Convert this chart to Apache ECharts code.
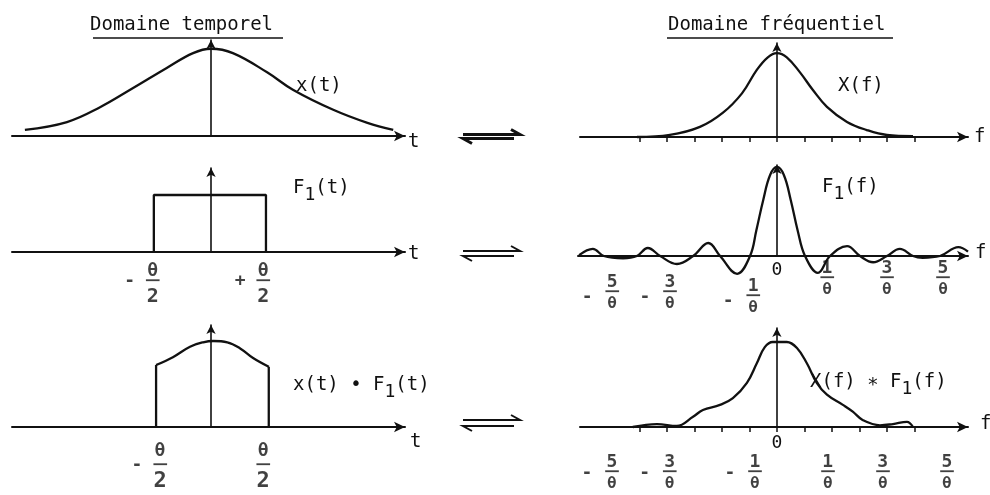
<!DOCTYPE html>
<html>
<head>
<meta charset="utf-8">
<title>Domaine temporel / Domaine fréquentiel</title>
<script src="https://cdn.jsdelivr.net/npm/echarts@6/dist/echarts.min.js"></script>
<style>
html, body { margin: 0; padding: 0; background: #fff; }
#chart { width: 990px; height: 495px; }
</style>
</head>
<body>
<div id="chart"></div>
<script>
// x(t)
var xT   = [-3.32, -2.57, -1.98, -1.39, -0.79, -0.32, 0, 0.39, 1.0, 1.46, 2.18, 2.79, 3.25];
var xVal = [0.07, 0.16, 0.33, 0.55, 0.78, 0.95, 1.0, 0.95, 0.73, 0.53, 0.30, 0.15, 0.07];

// X(f)
var XfF   = [-5.09, -3.89, -2.8, -1.96, -1.27, -0.73, -0.33, 0, 0.36, 0.84, 1.31, 1.82, 2.55, 3.27, 4.0, 4.95];
var XfVal = [0, 0.024, 0.12, 0.29, 0.52, 0.80, 0.95, 1.0, 0.95, 0.77, 0.56, 0.36, 0.18, 0.083, 0.024, 0.01];

// F1(t) : porte
var rectT   = [-1.02, -1.02, 0.98, 0.98];
var rectVal = [0, 1, 1, 0];

// F1(f)
var sincF   = [-7.2, -6.7, -6.3, -5.6, -5.1, -4.7, -4.25, -3.64, -3.05, -2.5, -2.07, -1.45, -0.98, -0.75, -0.5, -0.25, 0,
               0.25, 0.5, 0.75, 1.02, 1.49, 1.93, 2.55, 3.02, 3.5, 4.0, 4.47, 4.95, 5.3, 5.93, 6.6, 6.95];
var sincVal = [0.01, 0.08, 0, -0.025, 0, 0.09, 0, -0.09, 0, 0.146, 0, -0.20, 0, 0.29, 0.63, 0.91, 1.0,
               0.91, 0.63, 0.29, 0, -0.19, 0, 0.11, 0, -0.07, 0, 0.08, 0, -0.02, 0, 0.10, 0.05];

// x(t) . F1(t)
var prodT   = [-0.98, -0.68, -0.375, -0.14, 0.04, 0.29, 0.52, 0.75, 1.03];
var prodVal = [0.71, 0.80, 0.92, 0.97, 0.985, 0.97, 0.90, 0.79, 0.69];

// X(f) * F1(f)
var convF   = [-5.24, -4.36, -3.64, -3.05, -2.69, -2.07, -1.6, -1.09, -0.73, -0.44, -0.15, 0.1, 0.36, 0.73, 1.09, 1.45,
               1.82, 2.4, 2.76, 3.13, 3.75, 4.22, 4.73, 4.95];
var convVal = [0, 0.035, 0.012, 0.12, 0.2, 0.26, 0.34, 0.52, 0.75, 0.94, 1.0, 1.0, 1.0, 0.93, 0.75, 0.52,
               0.38, 0.26, 0.18, 0.08, 0.02, 0.035, 0.06, 0];

// graduations et etiquettes
var fTicks = [-5, -4, -3, -2, -1, 0, 1, 2, 3, 4, 5];
var halfX3 = [-1.04, 0.93];
var halfX5 = [-0.91, 0.93];
var halfNum = ['θ', 'θ'];
var halfDen = ['2', '2'];
var halfSign3 = ['-', '+'];
var halfSign5 = ['-', ''];
var fracX4 = [-6.0, -3.9, -0.87, 1.82, 4.0, 6.04];
var fracX6 = [-6.0, -3.9, -0.8, 1.85, 3.85, 6.18];
var fracNum = ['5', '3', '1', '1', '3', '5'];
var fracDen = ['θ', 'θ', 'θ', 'θ', 'θ', 'θ'];
var fracSign = ['-', '-', '-', '', '', ''];

var INK = '#111';
var MONO = "'DejaVu Sans Mono', monospace";

function zip(a, b) {
    var out = [];
    for (var i = 0; i < a.length; i++) out.push([a[i], b[i]]);
    return out;
}

var grids = [
    { left: 12,  top: 40,  width: 393, height: 96 },
    { left: 580, top: 43,  width: 388, height: 94 },
    { left: 12,  top: 168, width: 393, height: 84 },
    { left: 578, top: 165, width: 390, height: 91 },
    { left: 12,  top: 325, width: 393, height: 102 },
    { left: 580, top: 328, width: 388, height: 99 }
];
grids.forEach(function (g) { g.outerBoundsMode = 'none'; g.containLabel = false; });

function xAxisOf(gi, min, max, extra) {
    var ax = {
        type: 'value', gridIndex: gi, min: min, max: max,
        axisLine: { show: true, symbol: ['none', 'arrow'], symbolSize: [8, 11], lineStyle: { color: INK, width: 2 } },
        axisTick: { show: false },
        axisLabel: { show: false },
        splitLine: { show: false }
    };
    if (extra) for (var k in extra) ax[k] = extra[k];
    return ax;
}

function yAxisOf(gi, max) {
    return {
        type: 'value', gridIndex: gi, min: 0, max: max,
        axisLine: { show: true, symbol: ['none', 'arrow'], symbolSize: [7, 9], lineStyle: { color: INK, width: 1.6 } },
        axisTick: { show: false },
        axisLabel: { show: false },
        splitLine: { show: false }
    };
}

var tickStyle = { show: true, customValues: fTicks, length: 5, lineStyle: { color: INK, width: 1.5 } };
function zeroLabel(margin) {
    return { show: true, customValues: [0], margin: margin, fontFamily: MONO, fontSize: 18, color: INK,
             formatter: function () { return '0'; } };
}

var xAxes = [
    xAxisOf(0, -3.55, 3.46),
    xAxisOf(1, -7.16, 6.95, { axisTick: tickStyle }),
    xAxisOf(2, -3.55, 3.46),
    xAxisOf(3, -7.24, 6.95, { axisLabel: zeroLabel(5) }),
    xAxisOf(4, -3.55, 3.46),
    xAxisOf(5, -7.16, 6.95, { axisTick: tickStyle, axisLabel: zeroLabel(7) })
];
var yMax = [1.1, 1.12, 1.474, 1.022, 1.168, 1.165];
var yAxes = yMax.map(function (m, i) { return yAxisOf(i, m); });

function curve(gi, data, smooth) {
    return {
        type: 'line', xAxisIndex: gi, yAxisIndex: gi, data: data, smooth: smooth,
        symbol: 'none', clip: false, silent: true,
        lineStyle: { color: INK, width: 2.3 }
    };
}

function richFrac(nLh, dLh, dSize) {
    return {
        n: { fontFamily: MONO, fontSize: 18, lineHeight: nLh, color: INK },
        b: { fontFamily: MONO, fontSize: 22, lineHeight: 6, color: INK },
        d: { fontFamily: MONO, fontSize: dSize, lineHeight: dLh, color: INK }
    };
}

function textMarks(gi, xs, offsets, formatter, rich, fontSize) {
    var data = [];
    for (var i = 0; i < xs.length; i++) {
        data.push({ value: [xs[i], 0], label: { offset: offsets[i] } });
    }
    return {
        type: 'scatter', xAxisIndex: gi, yAxisIndex: gi, symbolSize: 1, clip: false, silent: true,
        itemStyle: { color: 'rgba(0,0,0,0)' },
        label: { show: true, position: 'inside', formatter: formatter, rich: rich,
                 fontFamily: MONO, fontSize: fontSize || 18, fontWeight: 'bold', color: INK },
        data: data
    };
}

function fracMarks(gi, xs, nums, dens, dys, rich) {
    return textMarks(gi, xs, dys.map(function (d) { return [0, d]; }), function (p) {
        return '{n|' + nums[p.dataIndex] + '}\n{b|─}\n{d|' + dens[p.dataIndex] + '}';
    }, rich);
}

function signMarks(gi, xs, signs, dx, dys) {
    var sx = [], off = [], s = [];
    for (var i = 0; i < xs.length; i++) {
        if (!signs[i]) continue;
        sx.push(xs[i]); off.push([dx, dys[i]]); s.push(signs[i]);
    }
    return textMarks(gi, sx, off, function (p) { return s[p.dataIndex]; }, null, 18);
}

var series = [
    curve(0, zip(xT, xVal), 0.4),
    curve(1, zip(XfF, XfVal), 0.4),
    curve(2, zip(rectT, rectVal), false),
    curve(3, zip(sincF, sincVal), 0.4),
    curve(4, zip(prodT, prodVal), 0.4),
    curve(4, [[prodT[0], 0], [prodT[0], prodVal[0]]], false),
    curve(4, [[prodT[prodT.length - 1], prodVal[prodVal.length - 1]], [prodT[prodT.length - 1], 0]], false),
    curve(5, zip(convF, convVal), 0.4),

    fracMarks(2, halfX3, halfNum, halfDen, [34.5, 34.5], richFrac(15, 24, 20)),
    signMarks(2, halfX3, halfSign3, -23, [29, 29]),
    fracMarks(4, halfX5, halfNum, halfDen, [39, 39], richFrac(24, 24, 22)),
    signMarks(4, halfX5, halfSign5, -23, [38, 38]),
    fracMarks(3, fracX4, fracNum, fracDen, [37, 37, 41, 23, 23, 23], richFrac(15, 15, 16)),
    signMarks(3, fracX4, fracSign, -25, [41, 41, 45, 0, 0, 0]),
    fracMarks(5, fracX6, fracNum, fracDen, [46, 46, 46, 46, 46, 46], richFrac(15, 15, 16)),
    signMarks(5, fracX6, fracSign, -25, [46, 46, 46, 0, 0, 0])
];

function label(x, y, text, size) {
    return {
        type: 'text', x: x, y: y, silent: true,
        style: {
            text: text, fontFamily: MONO, fontSize: size || 19, fill: INK,
            align: 'left', verticalAlign: 'middle', textAlign: 'left', textVerticalAlign: 'middle',
            rich: {
                a: { fontFamily: MONO, fontSize: 19, fill: INK, color: INK },
                s: { fontFamily: MONO, fontSize: 18, fill: INK, color: INK, padding: [15, 0, 0, 0] }
            }
        }
    };
}

function underline(x1, x2, y) {
    return { type: 'line', silent: true, shape: { x1: x1, y1: y, x2: x2, y2: y },
             style: { stroke: INK, lineWidth: 1.5 } };
}

function harpoons(y, gap, w) {
    return [
        { type: 'polyline', silent: true,
          shape: { points: [[463, y - gap], [520, y - gap], [511, y - gap - 5]] },
          style: { stroke: INK, lineWidth: w, fill: null } },
        { type: 'polyline', silent: true,
          shape: { points: [[514, y + gap], [463, y + gap], [472, y + gap + 5]] },
          style: { stroke: INK, lineWidth: w, fill: null } }
    ];
}

var graphics = [
    label(90, 25, 'Domaine temporel', 19),
    label(668, 25, 'Domaine fréquentiel', 19),
    underline(93, 283, 38),
    underline(667, 893, 38),
    label(296, 86, '{a|x(t)}'),
    label(838, 86, '{a|X(f)}'),
    label(293, 188, '{a|F}{s|1}{a|(t)}'),
    label(822, 187, '{a|F}{s|1}{a|(f)}'),
    label(293, 385, '{a|x(t) • F}{s|1}{a|(t)}'),
    label(810, 382, '{a|X(f) ∗ F}{s|1}{a|(f)}'),
    // noms des axes
    label(408, 142, 't', 19),
    label(408, 254, 't', 19),
    label(410, 442, 't', 19),
    label(974, 137, 'f', 19),
    label(975, 253, 'f', 19),
    label(980, 424, 'f', 19)
].concat(harpoons(136.5, 2, 3), harpoons(253.5, 2.5, 2), harpoons(423, 3, 2));

var chart = echarts.init(document.getElementById('chart'), null, { renderer: 'canvas' });
chart.setOption({
    backgroundColor: '#fff',
    animation: false,
    grid: grids,
    xAxis: xAxes,
    yAxis: yAxes,
    series: series,
    graphic: graphics
});
</script>
</body>
</html>
